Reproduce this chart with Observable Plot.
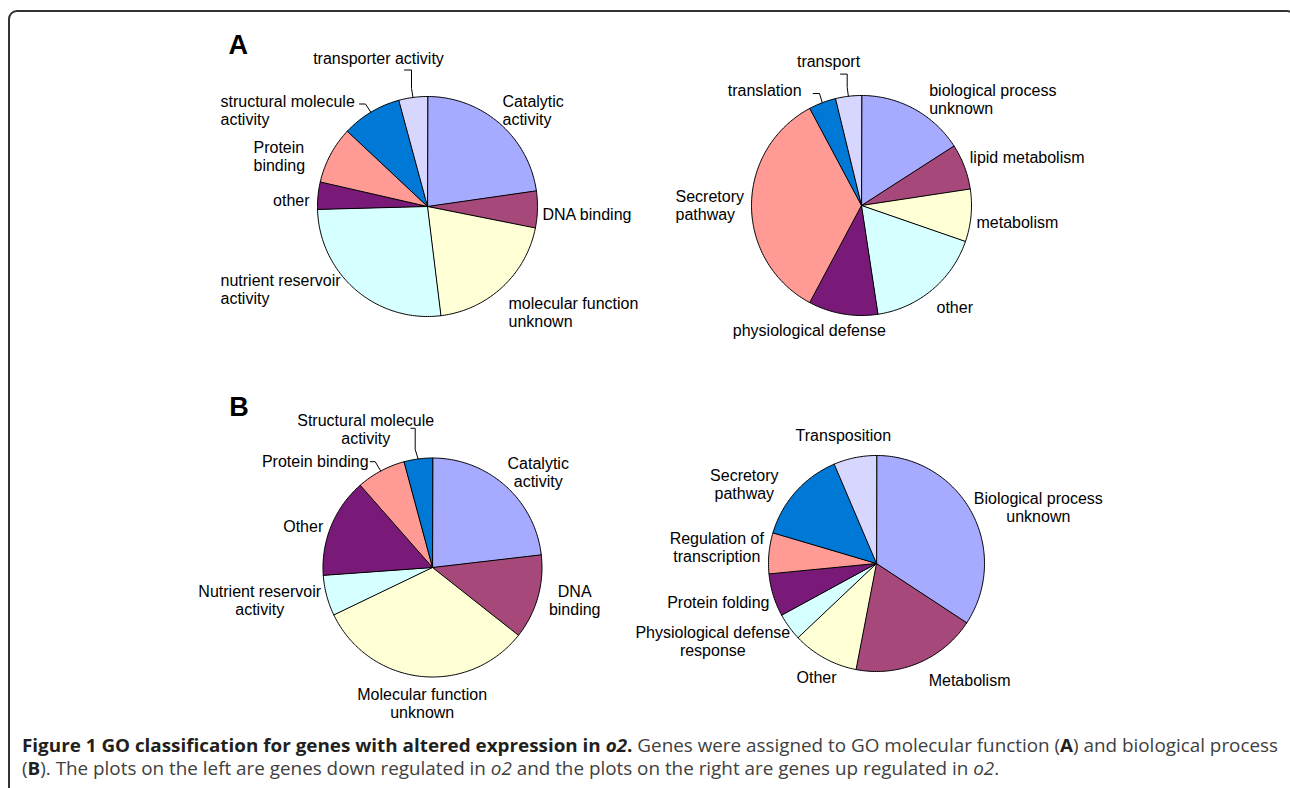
<!DOCTYPE html>
<html>
<head>
<meta charset="utf-8">
<script src="https://cdn.jsdelivr.net/npm/d3@7"></script>
<script src="https://cdn.jsdelivr.net/npm/@observablehq/plot@0.6"></script>
<style>
  html, body { margin: 0; padding: 0; background: #fff; }
  #fig { position: relative; width: 1290px; height: 788px; overflow: hidden; background: #fff; }
  .frame { position: absolute; left: 8px; top: 10px; width: 1288px; height: 900px; border: 2px solid #333; border-radius: 9px; box-sizing: border-box; }
  .pie { position: absolute; }
  #caption { position: absolute; left: 22px; top: 734px; font-family: "Open Sans", sans-serif; font-size: 17.5px; line-height: 23px; color: #404040; white-space: nowrap; transform-origin: 0 0; }
  #caption b { color: #231f20; font-weight: 700; }
  #caption .line { white-space: nowrap; display: inline-block; }
</style>
</head>
<body>
<div id="fig">
  <div class="frame"></div>
  <div id="caption">
    <div><span class="line" id="cap1"><b>Figure 1 GO classification for genes with altered expression in <i>o2</i>.</b> Genes were assigned to GO molecular function (<b>A</b>) and biological process</span></div>
    <div><span class="line">(<b>B</b>). The plots on the left are genes down regulated in <i>o2</i> and the plots on the right are genes up regulated in <i>o2</i>.</span></div>
  </div>
</div>
<script>
// ---------------- DATA (percent of genes) ----------------
const aDownCategories = ["Catalytic activity", "DNA binding", "molecular function unknown", "nutrient reservoir activity", "other", "Protein binding", "structural molecule activity", "transporter activity"];
const aDownValues = [22.7, 5.4, 19.9, 26.5, 4.0, 8.4, 8.8, 4.2];

const aUpCategories = ["biological process unknown", "lipid metabolism", "metabolism", "other", "physiological defense", "Secretory pathway", "translation", "transport"];
const aUpValues = [15.9, 6.7, 7.7, 17.3, 10.2, 34.4, 4.0, 3.8];

const bDownCategories = ["Catalytic activity", "DNA binding", "Molecular function unknown", "Nutrient reservoir activity", "Other", "Protein binding", "Structural molecule activity"];
const bDownValues = [23.2, 12.5, 32.3, 6.0, 14.7, 7.3, 4.2];

const bUpCategories = ["Biological process unknown", "Metabolism", "Other", "Physiological defense response", "Protein folding", "Regulation of transcription", "Secretory pathway", "Transposition"];
const bUpValues = [34.2, 18.75, 9.9, 4.1, 6.4, 6.1, 14.0, 6.4];

// label texts as drawn (line breaks)
const aDownLabels = ["Catalytic\nactivity", "DNA binding", "molecular function\nunknown", "nutrient reservoir\nactivity", "other", "Protein\nbinding", "structural molecule\nactivity", "transporter activity"];
const aUpLabels = ["biological process\nunknown", "lipid metabolism", "metabolism", "other", "physiological defense", "Secretory\npathway", "translation", "transport"];
const bDownLabels = ["Catalytic\nactivity", "DNA\nbinding", "Molecular function\nunknown", "Nutrient reservoir\nactivity", "Other", "Protein binding", "Structural molecule\nactivity"];
const bUpLabels = ["Biological process\nunknown", "Metabolism", "Other", "Physiological defense\nresponse", "Protein folding", "Regulation of\ntranscription", "Secretory\npathway", "Transposition"];

const panelLetters = ["A", "B"];

// ---------------- STYLE ----------------
const sliceColors = ["#a7abff", "#a6497a", "#ffffd6", "#d6ffff", "#7a1a78", "#ff9a94", "#0079d6", "#d6d6ff"];

// ---------------- LAYOUT (pixels) ----------------
const W = 560, H = 380, FONT = 16;
const pies = [
  {id: "aDown", cats: aDownCategories, vals: aDownValues, labels: aDownLabels, cx: 427, cy: 205.5, r: 110,
   letter: {text: panelLetters[0], dx: -199, dy: -161.5},
   pos: [[75, -96, "start"], [115, 7.5, "start"], [81, 105.5, "start"], [-207, 82.5, "start"], [-118, -6.5, "end"], [-174, -50.5, "start"], [-207, -96.5, "start"], [-49, -148.5, "middle"]],
   leaders: [[6, [[-68, -102.5], [-62, -102.5]]], [7, [[-23, -136.5], [-16, -136.5], [-16, -118]]]]},
  {id: "aUp", cats: aUpCategories, vals: aUpValues, labels: aUpLabels, cx: 861, cy: 204.7, r: 110,
   pos: [[67.7, -106.7, "start"], [108.3, -48.7, "start"], [115, 16.3, "start"], [75, 102, "start"], [-128.7, 124.6, "start"], [-186, -0.7, "start"], [-133.7, -115.4, "start"], [-33, -144.7, "middle"]],
   leaders: [[6, [[-48.3, -112], [-42, -112]]], [7, [[-21, -131.4], [-14.3, -131.4], [-14.3, -118]]]]},
  {id: "bDown", cats: bDownCategories, vals: bDownValues, labels: bDownLabels, cx: 432.3, cy: 566.5, r: 109.5,
   letter: {text: panelLetters[1], dx: -203.3, dy: -160.5},
   pos: [[105.7, -95.5, "middle"], [142.2, 33, "middle"], [-10.3, 136, "middle"], [-172.8, 33, "middle"], [-129.3, -40.8, "middle"], [-170.6, -106.5, "start"], [-66.8, -138.5, "middle"]],
   leaders: [[5, [[-62.3, -105.8], [-57.3, -105.8]]], [6, [[-21.6, -139.2], [-17.3, -139.2], [-16, -118]]]]},
  {id: "bUp", cats: bUpCategories, vals: bUpValues, labels: bUpLabels, cx: 875.7, cy: 563, r: 108,
   pos: [[161.8, -56, "middle"], [93.1, 117, "middle"], [-60, 113.7, "middle"], [-163.7, 78, "middle"], [-158.2, 38.7, "middle"], [-159.7, -16, "middle"], [-132.2, -79, "middle"], [-33.2, -128, "middle"]],
   leaders: []}
];

function buildPie(p) {
  const arcs = d3.pie().sort(null).value(d => d)(p.vals);
  const pts = [];
  arcs.forEach((a, i) => {
    const color = sliceColors[i];
    pts.push({key: i, x: 0, y: 0, color, category: p.cats[i]});
    const n = Math.max(2, Math.ceil((a.endAngle - a.startAngle) / (Math.PI / 180)));
    for (let k = 0; k <= n; k++) {
      const t = a.startAngle + (a.endAngle - a.startAngle) * k / n;
      pts.push({key: i, x: p.r * Math.sin(t), y: -p.r * Math.cos(t), color, category: p.cats[i]});
    }
  });
  const labels = p.labels.map((text, i) => ({text, x: p.pos[i][0], y: p.pos[i][1], anchor: p.pos[i][2]}));
  const leaderPts = [];
  p.leaders.forEach(([i, elbow]) => {
    const a = arcs[i];
    const m = (a.startAngle + a.endAngle) / 2;
    elbow.slice(0, 2).forEach(([x, y]) => leaderPts.push({key: i, x, y}));
    if (elbow.length > 2) leaderPts.push({key: i, x: elbow[1][0], y: elbow[2][1]});
    leaderPts.push({key: i, x: p.r * Math.sin(m), y: -p.r * Math.cos(m)});
  });
  const marks = [
    Plot.line(pts, {x: "x", y: "y", z: "key", fill: "color", stroke: "black", strokeWidth: 1, curve: "linear-closed", strokeLinejoin: "round"}),
    Plot.line(leaderPts, {x: "x", y: "y", z: "key", stroke: "black", strokeWidth: 1})
  ];
  for (const anchor of ["start", "middle", "end"]) {
    const sub = labels.filter(d => d.anchor === anchor);
    if (sub.length) marks.push(Plot.text(sub, {x: "x", y: "y", text: "text", textAnchor: anchor, lineAnchor: "middle", fontSize: FONT, lineHeight: 1.125, fill: "black"}));
  }
  if (p.letter) {
    marks.push(Plot.text([p.letter], {x: "dx", y: "dy", text: "text", textAnchor: "start", lineAnchor: "middle", fontSize: 27, fontWeight: "bold", fill: "black"}));
  }
  const svg = Plot.plot({
    width: W, height: H, margin: 0,
    x: {domain: [-W / 2, W / 2], axis: null},
    y: {domain: [H / 2, -H / 2], axis: null},
    color: {type: "identity"},
    style: {background: "transparent", overflow: "visible", fontFamily: "'Liberation Sans', Arial, Helvetica, sans-serif"},
    marks
  });
  const holder = document.createElement("div");
  holder.className = "pie";
  holder.style.left = (p.cx - W / 2) + "px";
  holder.style.top = (p.cy - H / 2) + "px";
  holder.style.width = W + "px";
  holder.style.height = H + "px";
  holder.appendChild(svg);
  document.getElementById("fig").appendChild(holder);
}

pies.forEach(buildPie);

// fit the caption's first line to the reference width
const cap = document.getElementById("caption");
const w1 = document.getElementById("cap1").getBoundingClientRect().width;
const target = 1256;
cap.style.transform = `scaleX(${target / w1})`;
</script>
</body>
</html>
